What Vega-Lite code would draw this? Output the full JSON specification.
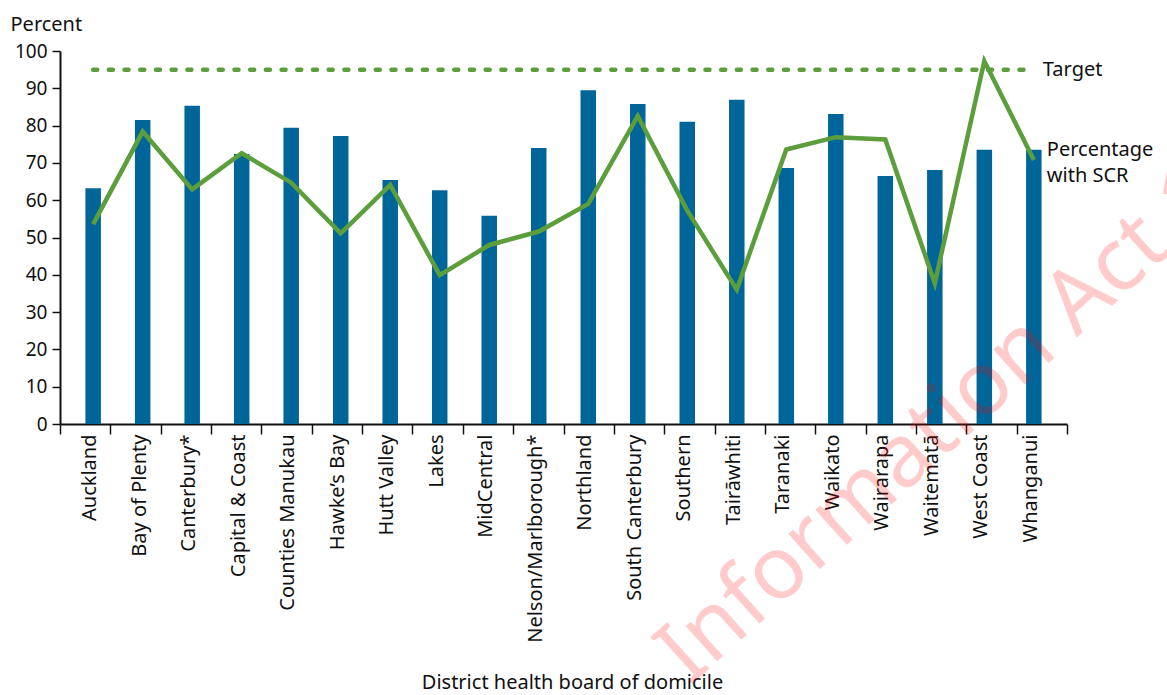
{
  "$schema": "https://vega.github.io/schema/vega-lite/v6.json",
  "width": 1007,
  "height": 373,
  "autosize": {"type": "none"},
  "padding": {"left": 60, "top": 51, "right": 100, "bottom": 271},
  "background": "white",
  "config": {
    "font": "Noto Sans",
    "view": {"stroke": null},
    "axis": {"labelColor": "#111", "titleColor": "#111", "domainColor": "#111", "tickColor": "#111", "grid": false, "labelFont": "Noto Sans", "titleFont": "Noto Sans", "titleFontWeight": "normal"}
  },
  "data": {
    "values": [
      {"district": "Auckland", "bar_pct": 63.2, "scr_pct": 53.6},
      {"district": "Bay of Plenty", "bar_pct": 81.5, "scr_pct": 78.4},
      {"district": "Canterbury*", "bar_pct": 85.3, "scr_pct": 62.9},
      {"district": "Capital & Coast", "bar_pct": 72.4, "scr_pct": 72.6},
      {"district": "Counties Manukau", "bar_pct": 79.4, "scr_pct": 64.7},
      {"district": "Hawke’s Bay", "bar_pct": 77.2, "scr_pct": 51.1},
      {"district": "Hutt Valley", "bar_pct": 65.4, "scr_pct": 64.1},
      {"district": "Lakes", "bar_pct": 62.7, "scr_pct": 39.9},
      {"district": "MidCentral", "bar_pct": 55.8, "scr_pct": 48.0},
      {"district": "Nelson/Marlborough*", "bar_pct": 74.0, "scr_pct": 51.6},
      {"district": "Northland", "bar_pct": 89.5, "scr_pct": 59.0},
      {"district": "South Canterbury", "bar_pct": 85.8, "scr_pct": 82.6},
      {"district": "Southern", "bar_pct": 81.0, "scr_pct": 57.2},
      {"district": "Tairāwhiti", "bar_pct": 86.9, "scr_pct": 36.0},
      {"district": "Taranaki", "bar_pct": 68.6, "scr_pct": 73.6},
      {"district": "Waikato", "bar_pct": 83.1, "scr_pct": 76.9},
      {"district": "Wairarapa", "bar_pct": 66.5, "scr_pct": 76.3},
      {"district": "Waitematā", "bar_pct": 68.1, "scr_pct": 37.7},
      {"district": "West Coast", "bar_pct": 73.5, "scr_pct": 97.3},
      {"district": "Whanganui", "bar_pct": 73.5, "scr_pct": 70.8}
    ]
  },
  "resolve": {"scale": {"x": "independent"}, "axis": {"x": "independent"}},
  "layer": [
    {
      "layer": [
        {
          "mark": {"type": "bar", "width": 15.5, "color": "#006699"},
          "encoding": {
            "y": {
              "field": "bar_pct", "type": "quantitative",
              "scale": {"domain": [0, 100], "nice": false},
              "axis": {
                "values": [0, 10, 20, 30, 40, 50, 60, 70, 80, 90, 100],
                "tickCount": 11,
                "labelOverlap": false,
                "title": "Percent", "titleAngle": 0, "titleAlign": "left", "titleBaseline": "alphabetic",
                "titleX": -50, "titleY": -21, "titleFontSize": 20,
                "labelFontSize": 19, "labelPadding": 5, "tickSize": 8, "tickWidth": 1.5, "domainWidth": 2
              }
            }
          }
        },
        {
          "transform": [{"filter": "datum.district === 'Auckland' || datum.district === 'Whanganui'"}],
          "mark": {"type": "line", "color": "#5c9e3c", "strokeWidth": 4.5, "strokeDash": [4, 11.7], "strokeCap": "round"},
          "encoding": {"y": {"datum": 95, "type": "quantitative"}}
        },
        {
          "mark": {"type": "line", "color": "#5c9e3c", "strokeWidth": 4.5, "strokeJoin": "miter"},
          "encoding": {"y": {"field": "scr_pct", "type": "quantitative"}}
        },
        {
          "transform": [{"filter": "datum.district === 'Whanganui'"}],
          "mark": {"type": "text", "text": "Target", "align": "left", "baseline": "middle", "dx": 9, "fontSize": 20, "color": "#111"},
          "encoding": {"y": {"datum": 95, "type": "quantitative"}}
        },
        {
          "transform": [{"filter": "datum.district === 'Whanganui'"}],
          "mark": {"type": "text", "text": ["Percentage", "with SCR"], "lineHeight": 26, "align": "left", "baseline": "middle", "dx": 13, "fontSize": 20, "color": "#111"},
          "encoding": {"y": {"datum": 73.5, "type": "quantitative"}}
        },
        {
          "transform": [{"filter": "datum.district === 'Northland'"}],
          "mark": {"type": "text", "text": "Information Act 1982", "align": "left", "baseline": "middle", "angle": -42, "dx": 113, "fontSize": 88, "font": "Noto Sans", "color": "#ff0000", "opacity": 0.2},
          "encoding": {"y": {"datum": -85.4, "type": "quantitative"}}
        }
      ],
      "encoding": {
        "x": {
          "field": "district", "type": "nominal", "sort": null,
          "scale": {"paddingInner": 0, "paddingOuter": 0.17},
          "axis": {
            "orient": "bottom", "ticks": false, "labelAngle": -90, "labelAlign": "right", "labelBaseline": "middle",
            "labelFontSize": 20, "labelPadding": 10, "labelOffset": -3, "labelLimit": 0, "labelOverlap": false, "domainWidth": 2,
            "title": "District health board of domicile", "titleFontSize": 20,
            "titleX": 512, "titleY": 258, "titleBaseline": "middle", "titleAnchor": null
          }
        }
      }
    },
    {
      "mark": {"type": "point", "opacity": 0},
      "encoding": {
        "x": {
          "field": "district", "type": "nominal", "sort": null,
          "scale": {"paddingInner": 0, "paddingOuter": 0},
          "axis": {"orient": "bottom", "labels": false, "domain": false, "ticks": true, "tickBand": "extent", "tickSize": 10, "tickWidth": 1.5, "title": null}
        },
        "y": {
          "field": "bar_pct", "type": "quantitative",
          "axis": {
            "values": [0, 10, 20, 30, 40, 50, 60, 70, 80, 90, 100],
            "tickCount": 11,
            "labelOverlap": false,
            "title": "Percent", "titleAngle": 0, "titleAlign": "left", "titleBaseline": "alphabetic",
            "titleX": -50, "titleY": -21, "titleFontSize": 20,
            "labelFontSize": 19, "labelPadding": 5, "tickSize": 8, "tickWidth": 1.5, "domainWidth": 2
          }
        }
      }
    }
  ]
}
